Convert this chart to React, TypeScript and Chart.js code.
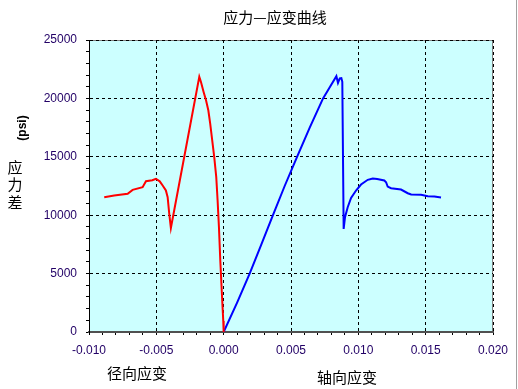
import React, { useEffect, useRef } from "react";
import { Chart, registerables } from "chart.js";

Chart.register(...registerables);

// Radial strain curve (red)
const radialStrain = [
  -0.00887, -0.00813, -0.00713, -0.00676, -0.00602, -0.00577, -0.00530, -0.00503,
  -0.00475, -0.00453, -0.00429, -0.00416, -0.00404, -0.00392, -0.00181, -0.00169,
  -0.00149, -0.00131, -0.00114, -0.00100, -0.00085, -0.00070, -0.00055, -0.00045,
  -0.00035, -0.00025, -0.00013, -0.00003, 0.0,
];
const radialStress = [
  11536, 11682, 11828, 12170, 12396, 12911, 12990, 13117,
  12900, 12541, 12112, 11536, 10110, 8906, 21845, 21416,
  20556, 19843, 18984, 17841, 16407, 14972, 13254, 11253,
  8959, 6099, 3238, 945, 0,
];

// Axial strain curve (blue)
const axialStrain = [
  0.0, 0.00099, 0.00193, 0.00280, 0.00366, 0.00453, 0.00545, 0.00639,
  0.00738, 0.00790, 0.00837, 0.00849, 0.00862, 0.00874, 0.00881, 0.00891,
  0.00901, 0.00921, 0.00946, 0.00983, 0.01020, 0.01070, 0.01107, 0.01140,
  0.01193, 0.01206, 0.01218, 0.01243, 0.01317, 0.01367, 0.01392, 0.01466,
  0.01516, 0.01565, 0.01614,
];
const axialStress = [
  0, 2500, 5000, 7500, 10000, 12500, 15000, 17500,
  20000, 21000, 21904, 21330, 21707, 21733, 21416, 8822,
  9820, 10680, 11484, 12112, 12627, 13031, 13143, 13100,
  12970, 12825, 12455, 12310, 12198, 11880, 11768, 11742,
  11622, 11597, 11510,
];

const chartTitle = "应力—应变曲线";
const yTitleUnit = "(psi)";
const yTitleChars = ["应", "力", "差"];
const radialLabel = "径向应变";
const axialLabel = "轴向应变";

const xMin = -0.01;
const xMax = 0.02;
const xMajor = 0.005;
const xMinor = 0.001;
const yMin = 0;
const yMax = 25000;
const yMajor = 5000;
const yMinor = 1000;

const isMultiple = (v: number, step: number) =>
  Math.abs(v / step - Math.round(v / step)) < 1e-6;

const cjkFont = '"Noto Sans CJK SC", sans-serif';
const latinFont = 'Arial, "Liberation Sans", sans-serif';

const decorPlugin = {
  id: "decor",
  beforeDraw(chart: any) {
    const { ctx, chartArea } = chart;
    ctx.save();
    ctx.fillStyle = "#CCFFFF";
    ctx.fillRect(
      chartArea.left,
      chartArea.top,
      chartArea.right - chartArea.left,
      chartArea.bottom - chartArea.top
    );
    ctx.strokeStyle = "#808080";
    ctx.lineWidth = 1;
    ctx.strokeRect(
      chartArea.left + 0.5,
      chartArea.top + 0.5,
      chartArea.right - chartArea.left - 1,
      chartArea.bottom - chartArea.top
    );
    // right-side frame line
    ctx.strokeStyle = "#A0A0A0";
    ctx.beginPath();
    ctx.moveTo(516.5, 0);
    ctx.lineTo(516.5, chart.height);
    ctx.stroke();
    ctx.restore();
  },
  afterDraw(chart: any) {
    const { ctx } = chart;
    ctx.save();
    ctx.fillStyle = "#000";
    ctx.textAlign = "center";
    ctx.textBaseline = "middle";
    ctx.font = `15px ${cjkFont}`;
    ctx.fillText(chartTitle, 275, 17);
    ctx.fillText(radialLabel, 137, 373);
    ctx.fillText(axialLabel, 347, 377);
    const ys = [167, 184, 202];
    yTitleChars.forEach((c, i) => ctx.fillText(c, 15, ys[i]));
    ctx.translate(23, 128);
    ctx.rotate(-Math.PI / 2);
    ctx.font = `bold 12px ${latinFont}`;
    ctx.fillText(yTitleUnit, 0, 0);
    ctx.restore();
  },
};

export default function App() {
  const ref = useRef<HTMLCanvasElement | null>(null);

  useEffect(() => {
    if (!ref.current) return;
    const radialData = radialStrain.map((x, i) => ({ x, y: radialStress[i] }));
    const axialData = axialStrain.map((x, i) => ({ x, y: axialStress[i] }));
    const tickColor = "#220066";
    const chart = new Chart(ref.current, {
      type: "scatter",
      data: {
        datasets: [
          {
            label: radialLabel,
            data: radialData,
            showLine: true,
            borderColor: "#FF0000",
            borderWidth: 2,
            pointRadius: 0,
            tension: 0,
          },
          {
            label: axialLabel,
            data: axialData,
            showLine: true,
            borderColor: "#0000FF",
            borderWidth: 2,
            pointRadius: 0,
            tension: 0,
          },
        ],
      },
      options: {
        animation: false,
        responsive: false,
        devicePixelRatio: 1,
        layout: { padding: { top: 40, right: 25, left: 0, bottom: 0 } },
        plugins: {
          legend: { display: false },
          tooltip: { enabled: false },
          title: { display: false },
        },
        scales: {
          x: {
            type: "linear",
            min: xMin,
            max: xMax,
            afterFit: (scale: any) => {
              scale.height = 57;
            },
            afterBuildTicks: (scale: any) => {
              const t = [];
              const n = Math.round((xMax - xMin) / xMinor);
              for (let i = 0; i <= n; i++) t.push({ value: xMin + i * xMinor });
              scale.ticks = t;
            },
            ticks: {
              autoSkip: false,
              maxRotation: 0,
              padding: 8,
              color: tickColor,
              font: { family: latinFont, size: 12 },
              callback: (v: any) =>
                isMultiple(Number(v), xMajor) ? Number(v).toFixed(3) : "",
            },
            grid: {
              color: (c: any) =>
                c.tick && isMultiple(c.tick.value, xMajor) ? "#000" : "rgba(0,0,0,0)",
              lineWidth: 1,
              drawTicks: true,
              tickLength: 3,
              tickColor: "#000",
            },
            border: { display: true, color: "#505050", width: 2, dash: [3, 3] },
          },
          y: {
            type: "linear",
            min: yMin,
            max: yMax,
            afterFit: (scale: any) => {
              scale.width = 89;
            },
            afterBuildTicks: (scale: any) => {
              const t = [];
              const n = Math.round((yMax - yMin) / yMinor);
              for (let i = 0; i <= n; i++) t.push({ value: yMin + i * yMinor });
              scale.ticks = t;
            },
            ticks: {
              autoSkip: false,
              padding: 9,
              color: tickColor,
              font: { family: latinFont, size: 12 },
              callback: (v: any) =>
                isMultiple(Number(v), yMajor) ? String(Math.round(Number(v))) : "",
            },
            grid: {
              color: (c: any) =>
                c.tick && isMultiple(c.tick.value, yMajor) ? "#000" : "rgba(0,0,0,0)",
              lineWidth: 1,
              drawTicks: true,
              tickLength: 3,
              tickColor: "#000",
            },
            border: { display: true, color: "#000", width: 1, dash: [3, 3] },
          },
        },
      },
      plugins: [decorPlugin],
    } as any);
    return () => chart.destroy();
  }, []);

  return (
    <div style={{ position: "absolute", left: 0, top: 0, width: 518, height: 389, background: "#fff" }}>
      <canvas ref={ref} width={518} height={389} style={{ display: "block" }} />
    </div>
  );
}
